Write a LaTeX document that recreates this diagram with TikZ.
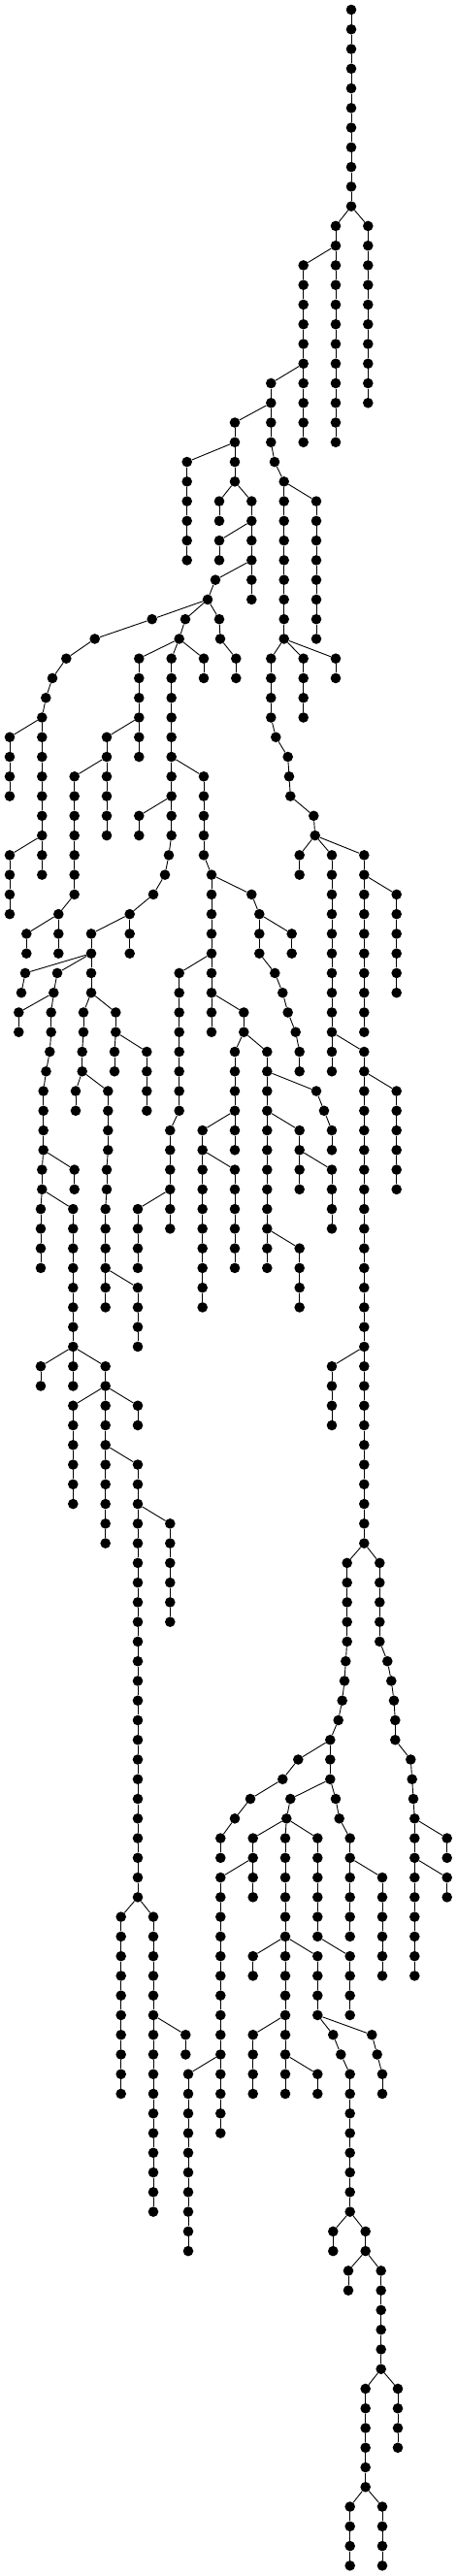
\documentclass[tikz,border=0pt]{standalone}
\tikzset{dot/.style={circle,fill=black,draw=none,inner sep=0pt,minimum size=10.6pt},
  edge/.style={line width=0.9pt,black}}
\newcommand\chain[4]{%
  \foreach \r in {#3,...,#4}{\node[dot] (#1-\r) at (#2,\r) {};}%
  \ifnum#3<#4\relax
    \pgfmathtruncatemacro\chstart{#3+1}%
    \foreach \r in {\chstart,...,#4}{\pgfmathtruncatemacro\p{\r-1}\draw[edge] (#1-\p) -- (#1-\r);}%
  \fi}
\newcommand\lk[2]{\draw[edge] (#1) -- (#2);}
\begin{document}
\begin{tikzpicture}[x=1pt,y=-20.264pt]
\fill[white] (0,-0.4935) rectangle (471,130.527);
\useasboundingbox (0,-0.4935) rectangle (471,130.527);
\chain{A}{362}{0}{10}
\chain{B}{346}{11}{22}
\chain{C}{379.3}{11}{20}
\chain{D}{312.7}{13}{22}
\chain{E}{279.3}{19}{22}
\chain{F}{242}{21}{24}
\chain{G}{192.7}{23}{28}
\chain{H}{283}{23}{23}
\chain{I}{292.7}{24}{32}
\chain{J}{326}{25}{32}
\chain{K}{226}{25}{26}
\chain{L}{259.3}{25}{30}
\chain{M}{226}{27}{28}
\chain{N}{222}{29}{29}
\chain{O}{214}{30}{30}
\chain{P}{156.7}{31}{31}
\chain{Q}{191}{31}{31}
\chain{R}{226}{31}{31}
\chain{S}{97.7}{32}{32}
\chain{T}{68.3}{33}{33}
\chain{U}{54}{34}{34}
\chain{V}{47.3}{35}{35}
\chain{W}{43.3}{36}{44}
\chain{X}{10}{37}{40}
\chain{Y}{10}{43}{46}
\chain{Z}{184.7}{32}{32}
\chain{AA}{143.3}{33}{38}
\chain{AB}{176.7}{33}{42}
\chain{AC}{210}{33}{34}
\chain{AD}{227}{32}{32}
\chain{AE}{243.3}{33}{34}
\chain{AF}{110}{37}{42}
\chain{AG}{76.7}{39}{45}
\chain{AH}{210}{39}{43}
\chain{AI}{143.3}{41}{42}
\chain{AJ}{174}{43}{43}
\chain{AK}{170}{44}{44}
\chain{AL}{158}{45}{45}
\chain{AM}{133.7}{46}{48}
\chain{AN}{94}{47}{50}
\chain{AO}{26}{49}{49}
\chain{AP}{22}{50}{50}
\chain{AQ}{59}{49}{49}
\chain{AR}{55.3}{50}{50}
\chain{AS}{19.3}{51}{52}
\chain{AT}{52.7}{51}{52}
\chain{AU}{51.3}{53}{53}
\chain{AV}{47.5}{54}{54}
\chain{AW}{44.7}{55}{58}
\chain{AX}{43.3}{59}{60}
\chain{AY}{42}{61}{64}
\chain{AZ}{76.7}{59}{60}
\chain{BA}{75.3}{61}{70}
\chain{BB}{60.3}{46}{48}
\chain{BC}{27.3}{47}{48}
\chain{BD}{218}{44}{52}
\chain{BE}{86}{51}{52}
\chain{BF}{84.7}{53}{54}
\chain{BG}{78}{55}{56}
\chain{BH}{111.3}{55}{58}
\chain{BI}{110}{59}{60}
\chain{BJ}{108.7}{61}{66}
\chain{BK}{142}{65}{68}
\chain{BL}{119.3}{51}{52}
\chain{BM}{118}{53}{54}
\chain{BN}{151.3}{53}{56}
\chain{BO}{184.7}{49}{56}
\chain{BP}{175.3}{57}{62}
\chain{BQ}{142}{61}{64}
\chain{BR}{251.3}{51}{52}
\chain{BS}{242}{53}{58}
\chain{BT}{208.7}{57}{66}
\chain{BU}{242}{59}{64}
\chain{BV}{275.3}{53}{64}
\chain{BW}{326}{55}{55}
\chain{BX}{334}{56}{56}
\chain{BY}{342}{57}{58}
\chain{BZ}{308.7}{57}{60}
\chain{CA}{342}{59}{62}
\chain{CB}{308.7}{63}{66}
\chain{CC}{259.3}{45}{45}
\chain{CD}{267.3}{46}{48}
\chain{CE}{300.7}{47}{48}
\chain{CF}{283.3}{49}{49}
\chain{CG}{291.3}{50}{50}
\chain{CH}{296.7}{51}{51}
\chain{CI}{304.7}{52}{52}
\chain{CJ}{308.7}{53}{54}
\chain{CK}{279.3}{33}{36}
\chain{CL}{312.7}{33}{36}
\chain{CM}{346}{33}{34}
\chain{CN}{284.3}{37}{37}
\chain{CO}{296.7}{38}{38}
\chain{CP}{298}{39}{39}
\chain{CQ}{299.3}{40}{40}
\chain{CR}{323.3}{41}{41}
\chain{CS}{324.7}{42}{42}
\chain{CT}{308.7}{43}{44}
\chain{CU}{342}{43}{54}
\chain{CV}{375.3}{43}{52}
\chain{CW}{408.7}{45}{50}
\chain{CX}{375.3}{53}{78}
\chain{CY}{408.7}{55}{60}
\chain{CZ}{342}{69}{72}
\chain{DA}{357.7}{79}{83}
\chain{DB}{356.3}{84}{84}
\chain{DC}{355}{85}{85}
\chain{DD}{352.7}{86}{86}
\chain{DE}{348.7}{87}{87}
\chain{DF}{340.3}{88}{90}
\chain{DG}{391.3}{79}{83}
\chain{DH}{399.3}{84}{84}
\chain{DI}{403.3}{85}{85}
\chain{DJ}{406}{86}{86}
\chain{DK}{407.3}{87}{88}
\chain{DL}{423.3}{89}{89}
\chain{DM}{424.7}{90}{90}
\chain{DN}{426}{91}{91}
\chain{DO}{427.3}{92}{100}
\chain{DP}{460.7}{93}{94}
\chain{DQ}{460.7}{95}{96}
\chain{DR}{307.3}{89}{89}
\chain{DS}{291.3}{90}{90}
\chain{DT}{258}{91}{91}
\chain{DU}{242}{92}{92}
\chain{DV}{227.3}{93}{94}
\chain{DW}{299.3}{91}{91}
\chain{DX}{295.3}{92}{92}
\chain{DY}{260.7}{93}{96}
\chain{DZ}{294}{93}{106}
\chain{EA}{327.3}{93}{98}
\chain{EB}{227.3}{95}{108}
\chain{EC}{346}{91}{91}
\chain{ED}{349.7}{92}{92}
\chain{EE}{360.7}{93}{98}
\chain{EF}{394}{95}{100}
\chain{EG}{260.7}{99}{100}
\chain{EH}{327.3}{99}{102}
\chain{EJ}{360.7}{99}{102}
\chain{EK}{260.7}{103}{106}
\chain{EL}{327.3}{105}{106}
\chain{EM}{343.3}{103}{103}
\chain{EN}{351.3}{104}{104}
\chain{EO}{360.7}{105}{112}
\chain{EP}{383.3}{103}{103}
\chain{EQ}{388.7}{104}{104}
\chain{ER}{394}{105}{106}
\chain{ES}{343.3}{113}{114}
\chain{ET}{376.7}{113}{114}
\chain{EU}{359}{115}{116}
\chain{EV}{392.7}{115}{120}
\chain{EW}{376.7}{121}{126}
\chain{EX}{410}{121}{124}
\chain{EY}{360.7}{127}{130}
\chain{EZ}{394}{127}{130}
\chain{FA}{194}{105}{114}
\chain{FB}{42}{69}{70}
\chain{FC}{108.7}{69}{78}
\chain{FD}{75.3}{71}{76}
\chain{FE}{142}{71}{72}
\chain{FF}{142}{74}{96}
\chain{FG}{175.3}{77}{82}
\chain{FH}{124.7}{97}{106}
\chain{FI}{158}{97}{112}
\chain{FJ}{191.3}{103}{104}
\lk{A-10}{B-11}\lk{A-10}{C-11}\lk{B-12}{D-13}\lk{D-18}{E-19}\lk{E-20}{F-21}
\lk{F-22}{G-23}\lk{E-22}{H-23}\lk{H-23}{I-24}\lk{I-24}{J-25}\lk{F-24}{K-25}
\lk{F-24}{L-25}\lk{L-26}{M-27}\lk{L-28}{N-29}\lk{N-29}{O-30}\lk{O-30}{P-31}
\lk{O-30}{Q-31}\lk{O-30}{R-31}\lk{P-31}{S-32}\lk{S-32}{T-33}\lk{T-33}{U-34}
\lk{U-34}{V-35}\lk{V-35}{W-36}\lk{W-36}{X-37}\lk{W-42}{Y-43}\lk{Q-31}{Z-32}
\lk{Z-32}{AA-33}\lk{Z-32}{AB-33}\lk{Z-32}{AC-33}\lk{R-31}{AD-32}\lk{AD-32}{AE-33}
\lk{AA-36}{AF-37}\lk{AF-38}{AG-39}\lk{AB-38}{AH-39}\lk{AB-40}{AI-41}\lk{AB-42}{AJ-43}
\lk{AJ-43}{AK-44}\lk{AK-44}{AL-45}\lk{AL-45}{AM-46}\lk{AM-46}{AN-47}\lk{AN-48}{AO-49}
\lk{AO-49}{AP-50}\lk{AN-48}{AQ-49}\lk{AQ-49}{AR-50}\lk{AR-50}{AS-51}\lk{AR-50}{AT-51}
\lk{AT-52}{AU-53}\lk{AU-53}{AV-54}\lk{AV-54}{AW-55}\lk{AW-58}{AX-59}\lk{AX-60}{AY-61}
\lk{AW-58}{AZ-59}\lk{AX-60}{BA-61}\lk{AG-45}{BB-46}\lk{BB-46}{BC-47}\lk{AH-43}{BD-44}
\lk{AN-50}{BE-51}\lk{BE-52}{BF-53}\lk{BF-54}{BG-55}\lk{BF-54}{BH-55}\lk{BH-58}{BI-59}
\lk{BI-60}{BJ-61}\lk{BJ-64}{BK-65}\lk{AN-50}{BL-51}\lk{BL-52}{BM-53}\lk{BL-52}{BN-53}
\lk{BD-48}{BO-49}\lk{BO-56}{BP-57}\lk{BP-60}{BQ-61}\lk{BD-50}{BR-51}\lk{BR-52}{BS-53}
\lk{BS-56}{BT-57}\lk{BT-58}{BU-59}\lk{BR-52}{BV-53}\lk{BV-54}{BW-55}\lk{BW-55}{BX-56}
\lk{BX-56}{BY-57}\lk{BV-56}{BZ-57}\lk{BZ-58}{CA-59}\lk{BV-62}{CB-63}\lk{BD-44}{CC-45}
\lk{CC-45}{CD-46}\lk{CD-46}{CE-47}\lk{CD-48}{CF-49}\lk{CF-49}{CG-50}\lk{CG-50}{CH-51}
\lk{CH-51}{CI-52}\lk{CI-52}{CJ-53}\lk{I-32}{CK-33}\lk{I-32}{CL-33}\lk{I-32}{CM-33}
\lk{CK-36}{CN-37}\lk{CN-37}{CO-38}\lk{CO-38}{CP-39}\lk{CP-39}{CQ-40}\lk{CQ-40}{CR-41}
\lk{CR-41}{CS-42}\lk{CS-42}{CT-43}\lk{CS-42}{CU-43}\lk{CS-42}{CV-43}\lk{CV-44}{CW-45}
\lk{CU-52}{CX-53}\lk{CX-54}{CY-55}\lk{CX-68}{CZ-69}\lk{CX-78}{DA-79}\lk{DA-83}{DB-84}
\lk{DB-84}{DC-85}\lk{DC-85}{DD-86}\lk{DD-86}{DE-87}\lk{DE-87}{DF-88}\lk{CX-78}{DG-79}
\lk{DG-83}{DH-84}\lk{DH-84}{DI-85}\lk{DI-85}{DJ-86}\lk{DJ-86}{DK-87}\lk{DK-88}{DL-89}
\lk{DL-89}{DM-90}\lk{DM-90}{DN-91}\lk{DN-91}{DO-92}\lk{DO-92}{DP-93}\lk{DO-94}{DQ-95}
\lk{DF-88}{DR-89}\lk{DR-89}{DS-90}\lk{DS-90}{DT-91}\lk{DT-91}{DU-92}\lk{DU-92}{DV-93}
\lk{DF-90}{DW-91}\lk{DW-91}{DX-92}\lk{DX-92}{DY-93}\lk{DX-92}{DZ-93}\lk{DX-92}{EA-93}
\lk{DY-94}{EB-95}\lk{DF-90}{EC-91}\lk{EC-91}{ED-92}\lk{ED-92}{EE-93}\lk{EE-94}{EF-95}
\lk{DZ-98}{EG-99}\lk{DZ-98}{EH-99}\lk{EA-98}{EJ-99}\lk{DZ-102}{EK-103}\lk{DZ-104}{EL-105}
\lk{EH-102}{EM-103}\lk{EM-103}{EN-104}\lk{EN-104}{EO-105}\lk{EH-102}{EP-103}\lk{EP-103}{EQ-104}
\lk{EQ-104}{ER-105}\lk{EO-112}{ES-113}\lk{EO-112}{ET-113}\lk{ET-114}{EU-115}\lk{ET-114}{EV-115}
\lk{EV-120}{EW-121}\lk{EV-120}{EX-121}\lk{EW-126}{EY-127}\lk{EW-126}{EZ-127}\lk{EB-104}{FA-105}
\lk{BA-68}{FB-69}\lk{BA-68}{FC-69}\lk{FC-70}{FD-71}\lk{FC-70}{FE-71}\lk{FC-73}{FF-74}
\lk{FF-76}{FG-77}\lk{FF-96}{FH-97}\lk{FF-96}{FI-97}\lk{FI-102}{FJ-103}
\end{tikzpicture}
\end{document}
